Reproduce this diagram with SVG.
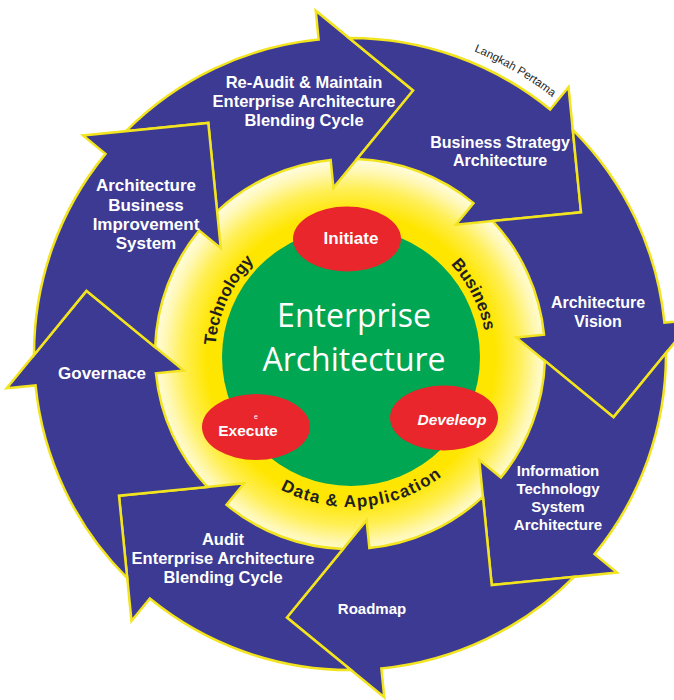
<svg xmlns="http://www.w3.org/2000/svg" xmlns:xlink="http://www.w3.org/1999/xlink" width="674" height="700" viewBox="0 0 674 700">
<style>
.arrow{fill:#3C3A92;stroke:#F2E41E;stroke-width:2.5;stroke-linejoin:miter}
.lbl{font-family:"Liberation Sans",Arial,sans-serif;font-weight:bold;fill:#FFFFFF;text-anchor:middle}
.ring{font-family:"Liberation Sans",Arial,sans-serif;font-weight:bold;fill:#231F20;text-anchor:middle}
.core{font-family:"Open Sans","Liberation Sans",sans-serif;fill:#FFFFFF;text-anchor:middle;font-size:32px}
.oval{fill:#E8262C}
</style>
<defs>
<radialGradient id="glow" gradientUnits="userSpaceOnUse" cx="351" cy="357" r="200">
<stop offset="0" stop-color="#FFE600"/>
<stop offset="0.72" stop-color="#FFE600"/>
<stop offset="0.84" stop-color="#FFEF55"/>
<stop offset="0.93" stop-color="#FFF8B5"/>
<stop offset="1" stop-color="#FFFDEA"/>
</radialGradient>
<path id="arrowShape" d="M 149.14 110.05 A 316 316 0 0 1 350 38 L 350 9 L 439 98 L 350 187 L 350 159 A 195 195 0 0 0 231.91 198.82 L 231.91 110.05 Z"/>
<path id="ringTop" d="M 215 357 A 136 136 0 0 1 487 357"/>
<path id="ringBottom" d="M 201 357 A 150 150 0 0 0 501 357"/>
<path id="outerArc" d="M 23 354 A 327 327 0 0 1 677 354"/>
</defs>
<rect x="0" y="0" width="674" height="700" fill="#FFFFFF"/>
<circle id="yellow-ring" cx="351" cy="357" r="200" fill="url(#glow)"/>

<g id="step-reaudit">
<use xlink:href="#arrowShape" class="arrow" transform="rotate(-5.7 350 354)"/>
<text class="lbl" font-size="16.5"><tspan x="304" y="88">Re-Audit &amp; Maintain</tspan><tspan x="304" y="107">Enterprise Architecture</tspan><tspan x="304" y="126">Blending Cycle</tspan></text>
</g>
<g id="step-business-strategy">
<use xlink:href="#arrowShape" class="arrow" transform="rotate(39.3 350 354)"/>
<text class="lbl" font-size="16"><tspan x="500" y="148">Business Strategy</tspan><tspan x="500" y="166">Architecture</tspan></text>
</g>
<g id="step-vision">
<use xlink:href="#arrowShape" class="arrow" transform="rotate(84.3 350 354)"/>
<text class="lbl" font-size="16"><tspan x="598" y="308">Architecture</tspan><tspan x="598" y="327">Vision</tspan></text>
</g>
<g id="step-it-system">
<use xlink:href="#arrowShape" class="arrow" transform="rotate(129.3 350 354)"/>
<text class="lbl" font-size="15"><tspan x="558" y="476">Information</tspan><tspan x="558" y="494">Technology</tspan><tspan x="558" y="512">System</tspan><tspan x="558" y="530">Architecture</tspan></text>
</g>
<g id="step-roadmap">
<use xlink:href="#arrowShape" class="arrow" transform="rotate(174.3 350 354)"/>
<text class="lbl" font-size="15" x="372" y="614">Roadmap</text>
</g>
<g id="step-audit">
<use xlink:href="#arrowShape" class="arrow" transform="rotate(219.3 350 354)"/>
<text class="lbl" font-size="16.5"><tspan x="223" y="545">Audit</tspan><tspan x="223" y="564">Enterprise Architecture</tspan><tspan x="223" y="583">Blending Cycle</tspan></text>
</g>
<g id="step-governance">
<use xlink:href="#arrowShape" class="arrow" transform="rotate(264.3 350 354)"/>
<text class="lbl" font-size="17" x="102" y="379">Governace</text>
</g>
<g id="step-improvement">
<use xlink:href="#arrowShape" class="arrow" transform="rotate(309.3 350 354)"/>
<text class="lbl" font-size="17"><tspan x="146" y="191">Architecture</tspan><tspan x="146" y="210.5">Business</tspan><tspan x="146" y="230">Improvement</tspan><tspan x="146" y="249">System</tspan></text>
</g>

<g id="langkah-pertama">
<text font-family="'Liberation Sans',Arial,sans-serif" font-size="11.5" fill="#262626" text-anchor="middle"><textPath xlink:href="#outerArc" startOffset="686">Langkah Pertama</textPath></text>
</g>

<g id="core">
<circle cx="351" cy="357" r="129" fill="#00A651"/>
<text class="core" x="354" y="327">Enterprise</text>
<text class="core" x="354" y="371">Architecture</text>
</g>

<g id="ring-labels">
<text class="ring" font-size="17"><textPath xlink:href="#ringTop" startOffset="59">Technology</textPath></text>
<text class="ring" font-size="17"><textPath xlink:href="#ringTop" startOffset="363">Business</textPath></text>
<text class="ring" font-size="17" letter-spacing="1.2"><textPath xlink:href="#ringBottom" startOffset="248">Data &amp; Application</textPath></text>
</g>

<g id="initiate">
<ellipse class="oval" cx="347" cy="239" rx="54" ry="32.5"/>
<text class="lbl" font-size="17" x="351" y="244">Initiate</text>
</g>
<g id="execute">
<ellipse class="oval" cx="256" cy="427" rx="54" ry="33"/>
<text font-family="'Liberation Sans',Arial,sans-serif" font-size="7" fill="#FFFFFF" text-anchor="middle" x="256" y="418.5">e</text>
<text class="lbl" font-size="15.5" x="248" y="436">Execute</text>
</g>
<g id="develeop">
<ellipse class="oval" cx="444" cy="418" rx="54" ry="32.5"/>
<text class="lbl" font-size="15.5" font-style="italic" x="452" y="425">Develeop</text>
</g>
</svg>
